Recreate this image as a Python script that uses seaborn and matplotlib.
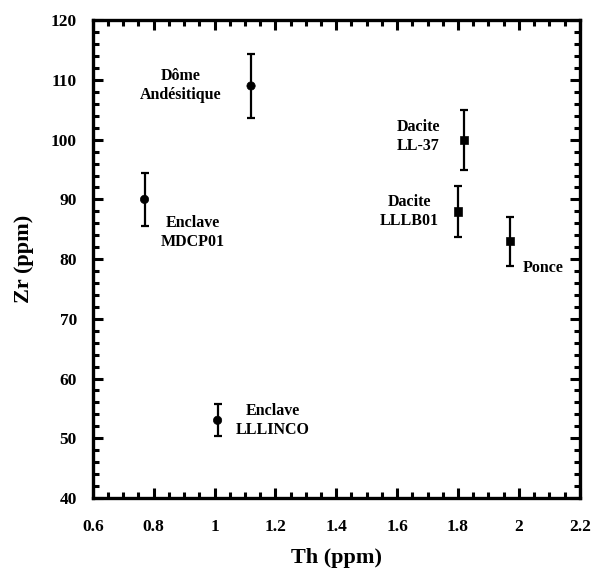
import matplotlib
matplotlib.use('Agg')
import matplotlib.pyplot as plt
import seaborn as sns
import pandas as pd
from matplotlib.ticker import MultipleLocator

# Data
samples = ['Dôme\nAndésitique', 'Enclave\nMDCP01', 'Enclave\nLLLINCO',
           'Dacite\nLL-37', 'Dacite\nLLLB01', 'Ponce']
th = [1.12, 0.77, 1.01, 1.82, 1.80, 1.97]
zr = [109, 90, 53, 100, 88, 83]
zr_err = [5.4, 4.5, 2.7, 5.0, 4.3, 4.1]
kind = ['circle', 'circle', 'circle', 'square', 'square', 'square']

# label placement (offsets from each point, in data units)
label_dx = [-0.23, 0.16, 0.18, -0.15, -0.16, 0.11]
label_dy = [0.0, -5.5, 0.0, 0.5, 0.0, -4.5]

df = pd.DataFrame({'sample': samples, 'Th': th, 'Zr': zr, 'err': zr_err, 'kind': kind})

sns.set_style('ticks')
plt.rcParams['font.family'] = ['Liberation Serif', 'DejaVu Serif']
plt.rcParams['font.weight'] = 'bold'
plt.rcParams['text.color'] = 'black'
plt.rcParams['axes.labelcolor'] = 'black'
plt.rcParams['xtick.color'] = 'black'
plt.rcParams['ytick.color'] = 'black'
plt.rcParams['axes.edgecolor'] = 'black'

fig = plt.figure(figsize=(5.91, 5.79), dpi=100)
ax = fig.add_axes([0.157, 0.140, 0.824, 0.825])

ax.errorbar(df['Th'], df['Zr'], yerr=df['err'], fmt='none', ecolor='black',
            elinewidth=1.6, capsize=3.2, capthick=1.6, zorder=2)
sns.scatterplot(data=df, x='Th', y='Zr', style='kind',
                markers={'circle': 'o', 'square': 's'}, color='black',
                s=36, edgecolor='black', legend=False, ax=ax, zorder=3)

for i, row in df.iterrows():
    ax.text(row['Th'] + label_dx[i], row['Zr'] + label_dy[i], row['sample'],
            ha='center', va='center', fontsize=11.5, fontweight='bold',
            linespacing=1.25, color='black')

ax.set_xlim(0.6, 2.2)
ax.set_ylim(40, 120)
ax.xaxis.set_major_locator(MultipleLocator(0.2))
ax.xaxis.set_minor_locator(MultipleLocator(0.05))
ax.yaxis.set_major_locator(MultipleLocator(10))
ax.yaxis.set_minor_locator(MultipleLocator(2))
ax.set_xticks([0.6, 0.8, 1.0, 1.2, 1.4, 1.6, 1.8, 2.0, 2.2])
ax.set_xticklabels(['0.6', '0.8', '1', '1.2', '1.4', '1.6', '1.8', '2', '2.2'])

ax.tick_params(which='both', direction='in', top=True, right=True, width=2.2,
               labelsize=12.5)
ax.tick_params(axis='x', pad=15)
ax.tick_params(axis='y', pad=11.5)
ax.tick_params(which='major', length=7)
ax.tick_params(which='minor', length=4)
for lab in ax.get_xticklabels() + ax.get_yticklabels():
    lab.set_fontweight('bold')
for sp in ax.spines.values():
    sp.set_linewidth(2.4)

ax.set_xlabel('Th (ppm)', fontsize=16, fontweight='bold')
ax.set_ylabel('Zr (ppm)', fontsize=16, fontweight='bold')
ax.xaxis.set_label_coords(0.5, -0.105)
ax.yaxis.set_label_coords(-0.12, 0.5)

fig.savefig('out.png', dpi=100, facecolor='white')
